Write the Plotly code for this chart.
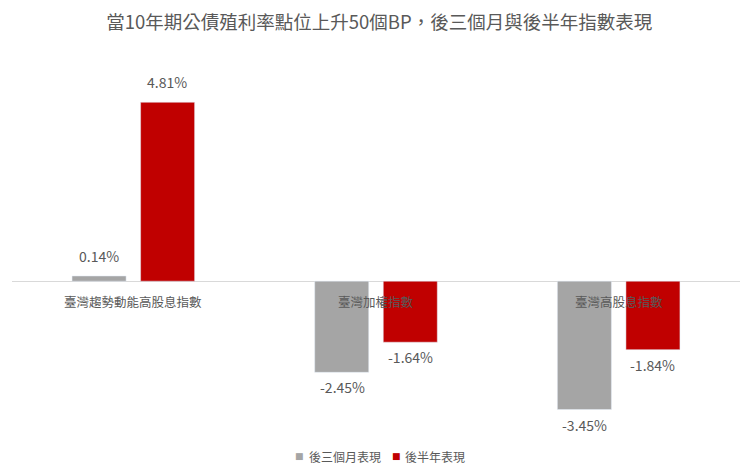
import plotly.graph_objects as go

categories = ["臺灣趨勢動能高股息指數", "臺灣加權指數", "臺灣高股息指數"]
three_month = [0.14, -2.45, -3.45]
half_year = [4.81, -1.64, -1.84]
series_names = ["後三個月表現", "後半年表現"]
series_colors = ["#A5A5A5", "#C00000"]

FONT = "Noto Sans CJK TC"
TEXT_COLOR = "#595959"
SLOT_SHIFT = 34  # px from group centre to each bar centre

fig = go.Figure()
for values, name, color in zip((three_month, half_year), series_names, series_colors):
    fig.add_trace(go.Bar(x=categories, y=values, name=name, marker_color=color, showlegend=False))

# value labels, nudged a little further from the bar ends than plotly's own outside text
for values, shift in ((three_month, -SLOT_SHIFT), (half_year, SLOT_SHIFT)):
    for cat, val in zip(categories, values):
        fig.add_annotation(
            x=cat,
            y=val,
            text=f"{val:.2f}%",
            showarrow=False,
            xshift=shift,
            yanchor="bottom" if val >= 0 else "top",
            yshift=8 if val >= 0 else -3,
            font=dict(family=FONT, size=14, color=TEXT_COLOR),
        )

for cat in categories:
    fig.add_annotation(
        x=cat,
        y=0,
        text=cat,
        showarrow=False,
        yanchor="top",
        yshift=-9,
        font=dict(family=FONT, size=12.5, color=TEXT_COLOR),
    )

# legend drawn as text so the swatch sits tight against the label, as in the original
for name, color, sq_x, txt_x in zip(series_names, series_colors, (0.3956, 0.5275), (0.405, 0.537)):
    fig.add_annotation(
        xref="paper", yref="paper", x=sq_x, y=-0.07,
        text="■", showarrow=False, xanchor="center", yanchor="middle",
        font=dict(family="DejaVu Sans", size=9, color=color),
    )
    fig.add_annotation(
        xref="paper", yref="paper", x=txt_x, y=-0.07,
        text=name, showarrow=False, xanchor="left", yanchor="middle",
        font=dict(family=FONT, size=12, color=TEXT_COLOR),
    )

# the page body has an 8px default margin, so margins are shifted to compensate
fig.update_layout(
    width=750,
    height=475,
    paper_bgcolor="white",
    plot_bgcolor="white",
    font=dict(family=FONT, color=TEXT_COLOR),
    title=dict(
        text="當10年期公債殖利率點位上升50個BP，後三個月與後半年指數表現",
        x=0.495,
        xanchor="center",
        y=0.97,
        yanchor="middle",
        font=dict(family=FONT, size=18.5, color=TEXT_COLOR),
    ),
    barmode="group",
    bargap=0.435,
    bargroupgap=0.212,
    margin=dict(l=4, r=18, t=50, b=53, autoexpand=False),
    showlegend=False,
)
fig.update_xaxes(showticklabels=False, showgrid=False, showline=False, ticks="")
fig.update_yaxes(
    range=[-4, 6],
    showticklabels=False,
    showgrid=False,
    zeroline=True,
    zerolinecolor="#D9D9D9",
    zerolinewidth=1,
)

fig.write_html("out.html")
